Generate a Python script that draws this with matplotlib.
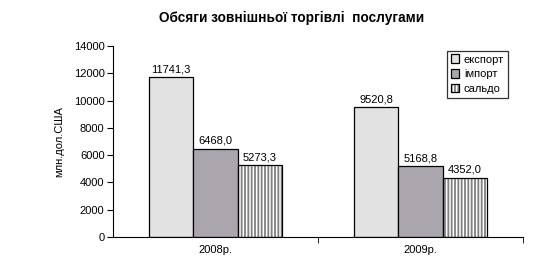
import numpy as np
import matplotlib.pyplot as plt

plt.rcParams['font.family'] = ['Liberation Sans', 'DejaVu Sans']
plt.rcParams['hatch.linewidth'] = 1.3

years = ['2008р.', '2009р.']
series = ['експорт', 'імпорт', 'сальдо']
export_vals = [11741.3, 9520.8]
import_vals = [6468.0, 5168.8]
saldo_vals = [5273.3, 4352.0]

values = [export_vals, import_vals, saldo_vals]
colors = ['#e2e2e2', '#aba6ae', 'white']
hatches = [None, None, '|||||']

fig = plt.figure(figsize=(5.35, 2.72), dpi=100)
ax = fig.add_axes([0.211, 0.129, 0.767, 0.702])

x = np.arange(len(years))
w = 0.216
for i, (vals, lab) in enumerate(zip(values, series)):
    bars = ax.bar(x + (i - 1) * w, vals, w, color=colors[i], edgecolor='black',
                  linewidth=0.9, label=lab)
    if hatches[i]:
        for b in bars:
            b.set_hatch(hatches[i])
            b._hatch_color = (0.5, 0.5, 0.5, 1)
    for b, v in zip(bars, vals):
        ax.text(b.get_x() + b.get_width() / 2, v + 200,
                ('%.1f' % v).replace('.', ','),
                ha='center', va='bottom', fontsize=8)

ax.set_xlim(-0.5, 1.5)
ax.set_ylim(0, 14000)
ax.set_yticks(np.arange(0, 14001, 2000))
ax.set_xticks(x)
ax.set_xticklabels(years, fontsize=8)
ax.set_xticks([0.5, 1.5], minor=True)
ax.tick_params(axis='x', which='major', length=0, pad=6)
ax.tick_params(axis='x', which='minor', length=4, direction='out')
ax.tick_params(axis='y', labelsize=8, length=4, direction='out', pad=2)
for s in ['top', 'right']:
    ax.spines[s].set_visible(False)
ax.set_ylabel('млн.дол.США', fontsize=8, labelpad=7)

fig.text(0.546, 0.935, 'Обсяги зовнішньої торгівлі  послугами',
         ha='center', va='center', fontsize=9.8, fontweight='bold')

leg = ax.legend(loc='upper left', bbox_to_anchor=(0.80, 1.005), fontsize=8,
                frameon=True, fancybox=False, edgecolor='black',
                handlelength=0.8, handleheight=0.8, handletextpad=0.4,
                borderpad=0.35, labelspacing=0.4)
leg.get_frame().set_linewidth(0.9)

fig.savefig('out.png', dpi=100)
